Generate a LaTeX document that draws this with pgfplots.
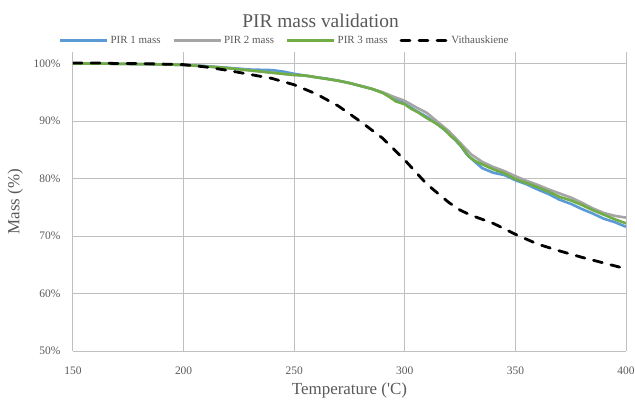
\documentclass[border=0pt]{standalone}
\usepackage{pgfplots}
\pgfplotsset{compat=1.18}
\usepackage{fontspec}
\setmainfont{Liberation Serif}
\usetikzlibrary{calc}
\definecolor{pblue}{HTML}{5B9BD5}
\definecolor{pgray}{HTML}{A5A5A5}
\definecolor{pgreen}{HTML}{70AD47}
\definecolor{txt}{HTML}{595959}
\definecolor{grid}{HTML}{D9D9D9}
\begin{document}
\begin{tikzpicture}
\begin{axis}[
  name=a,
  scale only axis,
  width=553bp, height=299bp,
  xmin=150, xmax=400, ymin=50, ymax=102,
  xtick={150,200,...,400},
  ytick={50,60,...,100},
  yticklabel={\pgfmathprintnumber{\tick}\%},
  /pgf/number format/assume math mode=true,
  tick label style={font=\fontsize{11.5}{13}\selectfont, text=txt},
  xticklabel style={yshift=-12bp},
  yticklabel style={xshift=-9bp},
  major tick length=0pt,
  grid=major,
  major grid style={grid, line width=1bp},
  axis line style={draw=none},
  axis x line*=bottom,
  axis y line*=left,
  xlabel={Temperature (\textquotesingle C)},
  ylabel={Mass (\%)},
  label style={font=\fontsize{17}{20}\selectfont, text=txt},
  xlabel style={yshift=-2bp},
  ylabel style={yshift=4bp},
  title={PIR mass validation},
  title style={font=\fontsize{19.5}{22}\selectfont, text=txt, yshift=15bp, xshift=-29bp},
  legend columns=4,
  legend style={at={(0.383,1.0)}, anchor=south, draw=none, fill=none,
    font=\fontsize{11}{12}\selectfont, text=txt, yshift=3bp,
    /tikz/every even column/.append style={column sep=10bp}},
  legend image code/.code={\draw[#1] (0bp,0bp) -- (47bp,0bp);},
]
\draw[pgray!70, line width=1bp] (axis cs:150,50) -- (axis cs:400,50);
\addplot[pblue, line width=2.6bp, line join=round] coordinates {
(150,100.0)(160,100.0)(170,99.95)(180,99.9)(190,99.85)(200,99.75)(210,99.55)(220,99.25)(230,98.95)(240,98.85)(245,98.6)(250,98.2)(255,97.9)(260,97.6)(265,97.35)(270,97.0)(275,96.6)(280,96.1)(285,95.6)(290,94.9)(295,94.0)(300,93.0)(305,91.8)(310,90.7)(315,89.4)(320,87.8)(323,86.6)(325,85.8)(328,84.2)(332,82.8)(335,81.8)(340,81.0)(345,80.6)(350,79.7)(355,79.0)(360,78.1)(365,77.3)(370,76.3)(375,75.6)(380,74.7)(385,73.9)(390,73.0)(395,72.4)(400,71.6)};
\addlegendentry{PIR 1 mass}
\addplot[pgray, line width=2.6bp, line join=round] coordinates {
(150,100.0)(160,100.0)(170,99.95)(180,99.9)(190,99.85)(200,99.75)(210,99.5)(220,99.2)(230,98.8)(240,98.4)(245,98.2)(250,98.0)(255,97.9)(260,97.6)(265,97.3)(270,97.0)(275,96.6)(280,96.1)(285,95.6)(290,95.0)(295,94.2)(300,93.5)(305,92.4)(310,91.4)(315,89.8)(320,88.2)(325,86.2)(330,84.2)(335,82.9)(340,82.0)(345,81.3)(350,80.4)(355,79.6)(360,78.9)(365,78.1)(370,77.4)(375,76.7)(380,75.8)(385,74.8)(390,74.0)(395,73.5)(400,73.2)};
\addlegendentry{PIR 2 mass}
\addplot[pgreen, line width=2.6bp, line join=round] coordinates {
(150,100.0)(160,100.0)(170,99.95)(180,99.9)(190,99.85)(200,99.75)(210,99.5)(220,99.2)(230,98.8)(240,98.4)(245,98.2)(250,98.0)(255,97.9)(260,97.6)(265,97.3)(270,97.0)(275,96.6)(280,96.1)(285,95.6)(290,94.9)(293,94.2)(296,93.4)(300,92.9)(303,92.1)(306,91.5)(310,90.5)(314,89.6)(318,88.5)(321,87.3)(323,86.7)(326,85.4)(329,83.8)(332,83.0)(336,82.3)(340,81.6)(345,80.9)(350,79.9)(355,79.2)(360,78.5)(365,77.7)(370,76.8)(375,76.2)(380,75.4)(385,74.5)(390,73.7)(395,72.9)(400,72.2)};
\addlegendentry{PIR 3 mass}
\addplot[black, line width=2.8bp, dash pattern=on 9bp off 9bp, line cap=round] coordinates {
(150,100.1)(160,100.1)(170,100.0)(180,100.0)(190,99.9)(200,99.8)(210,99.4)(220,98.8)(230,98.1)(240,97.4)(250,96.3)(260,94.7)(270,92.6)(280,89.9)(290,87.0)(300,83.2)(310,79.0)(320,75.8)(325,74.5)(330,73.6)(340,72.2)(350,70.3)(360,68.6)(370,67.4)(380,66.3)(390,65.3)(400,64.3)};
\addlegendentry{Vithauskiene}
\end{axis}
\pgfresetboundingbox
\path ($(a.south west)+(-73bp,-57bp)$) rectangle ($(a.north east)+(9bp,52bp)$);
\end{tikzpicture}
\end{document}
